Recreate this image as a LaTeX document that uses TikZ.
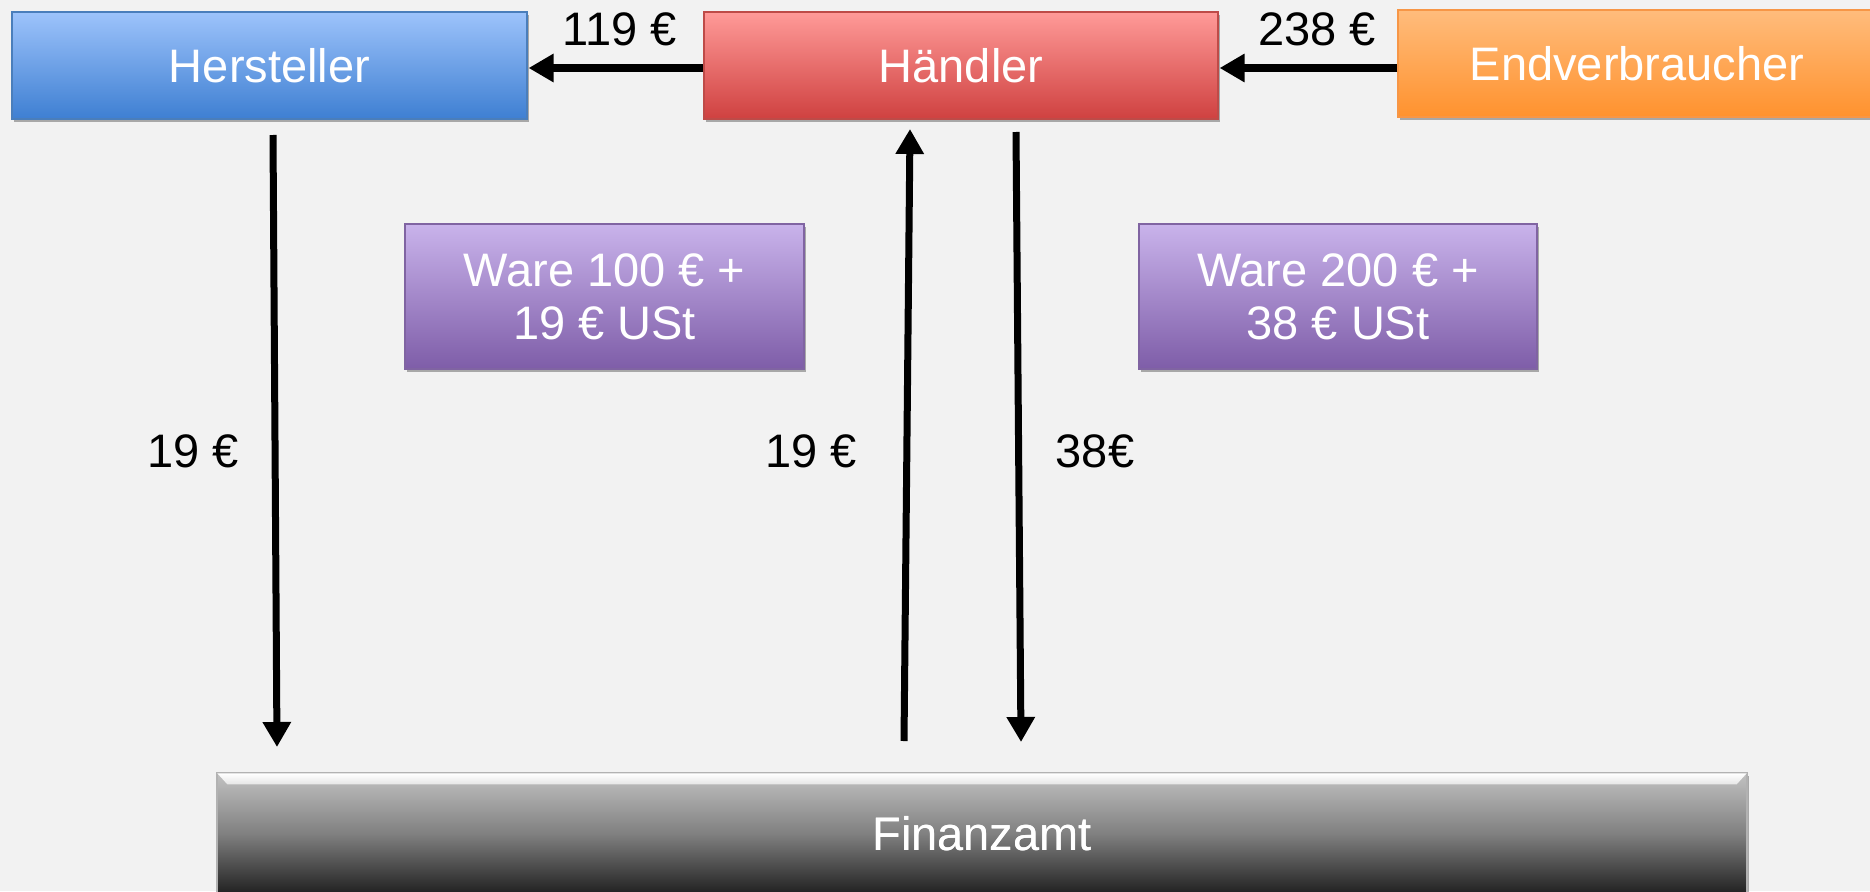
\documentclass[tikz,border=0pt]{standalone}
\usepackage{fontspec}
\setmainfont{Liberation Sans}
\usetikzlibrary{arrows.meta,shadows}
\definecolor{bg}{HTML}{F2F2F2}
\definecolor{blueT}{HTML}{9DC3FB}
\definecolor{blueB}{HTML}{3E7FD2}
\definecolor{blueD}{HTML}{4A7EBB}
\definecolor{redT}{HTML}{FF9A98}
\definecolor{redB}{HTML}{CF4140}
\definecolor{redD}{HTML}{BE4B48}
\definecolor{orT}{HTML}{FFBC7C}
\definecolor{orB}{HTML}{FF922E}
\definecolor{orD}{HTML}{F79646}
\definecolor{puT}{HTML}{C9B3EB}
\definecolor{puB}{HTML}{7E5DA8}
\definecolor{puD}{HTML}{8064A2}
\tikzset{
  box/.style={draw, line width=1.2pt, inner sep=0pt, text=white, align=center,
    font=\fontsize{47}{53}\selectfont,
    drop shadow={shadow xshift=2pt, shadow yshift=-3pt, opacity=0.3, fill=black}},
  lbl/.style={inner sep=0pt, text=black, font=\fontsize{47}{53}\selectfont},
  flow/.style={line width=7pt, -{Triangle[width=27pt 0,length=25pt 0]}},
}
\begin{document}
\begin{tikzpicture}[x=1pt,y=-1pt]
\useasboundingbox (0,0) rectangle (1870,891);
\fill[bg] (0,0) rectangle (1870,891);

\node[box, draw=blueD, top color=blueT, bottom color=blueB, minimum width=515pt, minimum height=107pt] (H) at (269.5,65.5) {Hersteller};
\node[box, draw=redD, top color=redT, bottom color=redB, minimum width=514pt, minimum height=107pt] (D) at (961,65.5) {Händler};
\node[box, draw=orD, top color=orT, bottom color=orB, minimum width=478pt, minimum height=107pt] (E) at (1637,63.5) {Endverbraucher};

\node[box, draw=puD, top color=puT, bottom color=puB, minimum width=399pt, minimum height=145pt] (W1) at (604.5,296.5) {Ware 100 € +\\19 € USt};
\node[box, draw=puD, top color=puT, bottom color=puB, minimum width=398pt, minimum height=145pt] (W2) at (1338,296.5) {Ware 200 € +\\38 € USt};

\node[box, draw=gray!60, top color=black!24, bottom color=black!88, middle color=black!50, minimum width=1530pt, minimum height=122pt, drop shadow={opacity=0}] (F) at (982,834) {Finanzamt};
\shade[top color=white, bottom color=white!80!gray] ([xshift=1pt,yshift=-1pt]F.north west) -- ([xshift=-1pt,yshift=-1pt]F.north east) -- ([xshift=-11pt,yshift=-12pt]F.north east) -- ([xshift=11pt,yshift=-12pt]F.north west) -- cycle;
\node[lbl, text=white] at (F.center) {Finanzamt};

% horizontal arrows
\coordinate (d1) at ([yshift=-2.5pt]D.west);
\coordinate (e1) at ([yshift=-4.5pt]E.west);
\draw[flow, shorten >=1pt] (d1) -- (d1 -| H.east);
\draw[flow, shorten >=1pt] (e1) -- (e1 -| D.east);
\node[lbl] (l119) at (620,29) {119 €};
\node[lbl] (l238) at (1317,29) {238 €};

% vertical arrows
\coordinate (a1s) at (273,135);
\coordinate (a1e) at (277,747);
\coordinate (a2s) at (904,741);
\coordinate (a2e) at (910,129);
\coordinate (a3s) at (1016,132);
\coordinate (a3e) at (1021,742);
\draw[flow] (a1s) -- (a1e);
\draw[flow] (a2s) -- (a2e);
\draw[flow] (a3s) -- (a3e);
\node[lbl] (l19a) at (193,451) {19 €};
\node[lbl] (l19b) at (811,451) {19 €};
\node[lbl] (l38) at (1095,451) {38€};
\end{tikzpicture}
\end{document}
